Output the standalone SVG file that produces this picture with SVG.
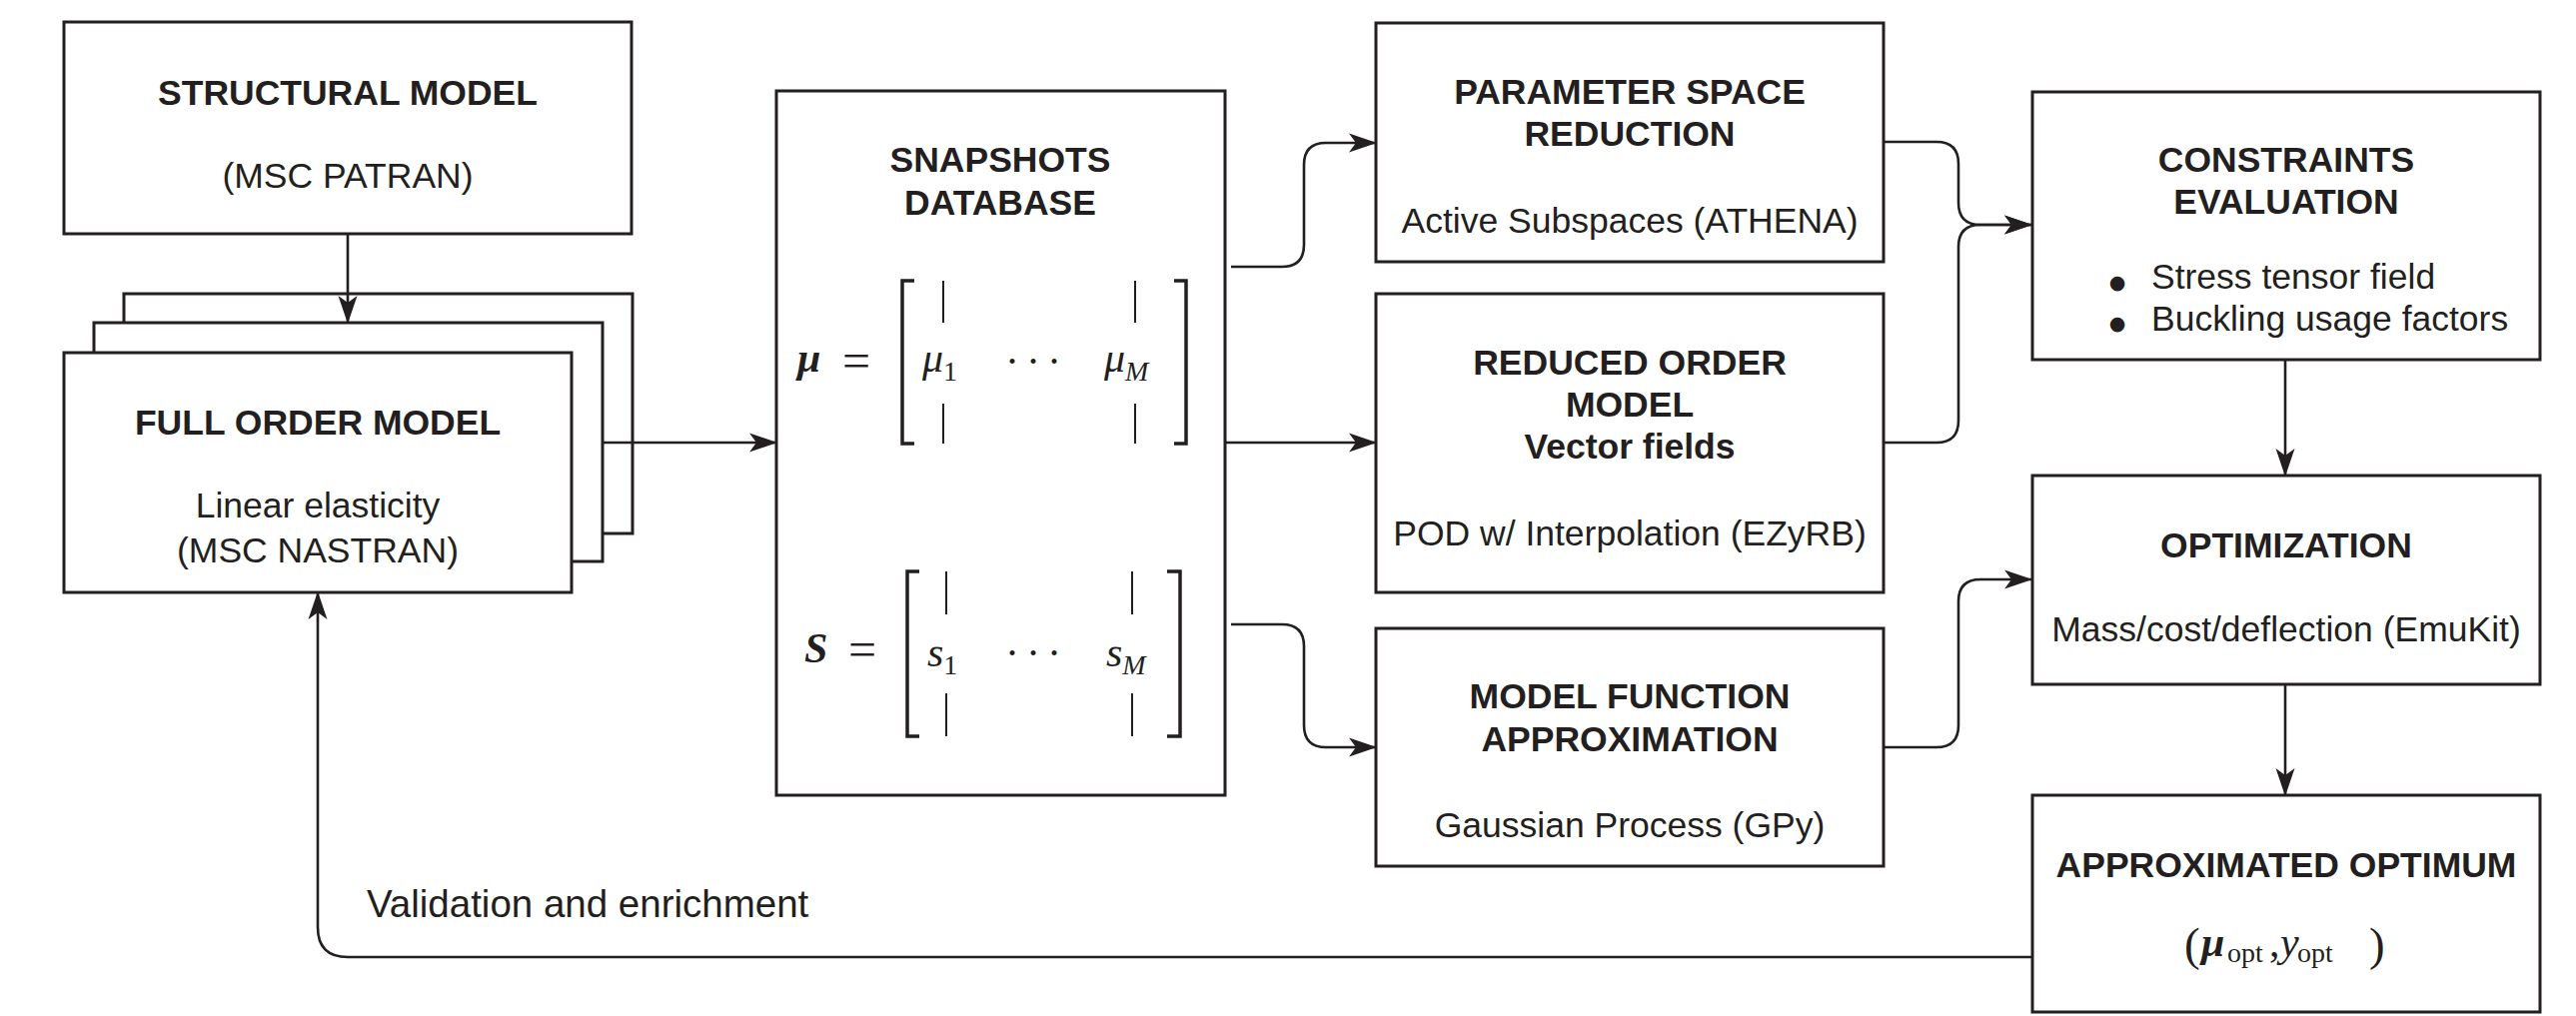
<svg xmlns="http://www.w3.org/2000/svg" width="2578" height="1017" viewBox="0 0 2578 1017">
<defs>
<marker id="arr" markerUnits="userSpaceOnUse" markerWidth="28" markerHeight="20" viewBox="0 0 28 20" refX="27" refY="10" orient="auto">
<path d="M0,0.5 L28,10 L0,19.5 L7,10 Z" fill="#231f20"/>
</marker>
<style>
.box{fill:#fff;stroke:#231f20;stroke-width:3}
.edge{fill:none;stroke:#231f20;stroke-width:2.6}
.arrow{marker-end:url(#arr)}
.t{font-family:"Liberation Sans",Arial,sans-serif;font-size:35.5px;fill:#231f20;text-anchor:middle}
.l{text-anchor:start}
.b{font-weight:bold}
.bul{font-family:"DejaVu Sans",sans-serif;font-size:19px;fill:#231f20;text-anchor:middle}
.lab{font-size:38.5px}
.m{font-family:"Liberation Serif","Times New Roman",serif;font-size:42px;fill:#231f20}
.bi{font-weight:bold;font-style:italic}
.i{font-style:italic}
.sub{font-size:28px}
.par{font-size:47px}
.eq{font-size:50px;text-anchor:middle}
.dots{text-anchor:middle}
.delim{fill:none;stroke:#231f20;stroke-width:3.5}
.bar{fill:none;stroke:#231f20;stroke-width:2}
</style>
</defs>
<rect width="2578" height="1017" fill="#fff"/>

<g id="structural-model">
<rect class="box" x="64" y="22" width="568" height="212"/>
<text class="t b" x="348" y="105">STRUCTURAL MODEL</text>
<text class="t" x="348" y="188">(MSC PATRAN)</text>
</g>

<g id="full-order-model">
<rect class="box" x="124" y="294" width="509" height="240"/>
<rect class="box" x="94" y="323" width="509" height="239"/>
<rect class="box" x="64" y="353" width="508" height="240"/>
<text class="t b" x="318" y="435">FULL ORDER MODEL</text>
<text class="t" x="318" y="518">Linear elasticity</text>
<text class="t" x="318" y="563">(MSC NASTRAN)</text>
</g>

<g id="snapshots-database">
<rect class="box" x="777" y="91" width="449" height="705"/>
<text class="t b" x="1001" y="172">SNAPSHOTS</text>
<text class="t b" x="1001" y="215">DATABASE</text>
<text class="m bi" x="798" y="372">μ</text>
<text class="m eq" x="857" y="378">=</text>
<path class="delim" d="M915,281 H903 V444 H915"/>
<path class="delim" d="M1175,281 H1187 V444 H1175"/>
<path class="bar" d="M944,281 V323 M944,404 V444 M1136,281 V323 M1136,404 V444"/>
<text class="m i" x="923" y="372">μ<tspan class="sub" font-style="normal" y="381">1</tspan></text>
<text class="m dots" x="1013 1034 1055" y="376">···</text>
<text class="m i" x="1105" y="372">μ<tspan class="sub" y="381">M</tspan></text>
<text class="m bi" x="805" y="663">S</text>
<text class="m eq" x="863" y="667">=</text>
<path class="delim" d="M920,572 H908 V737 H920"/>
<path class="delim" d="M1168,572 H1181 V737 H1168"/>
<path class="bar" d="M947,572 V615 M947,694 V737 M1133,572 V615 M1133,694 V737"/>
<text class="m i" x="928" y="667">s<tspan class="sub" font-style="normal" y="675">1</tspan></text>
<text class="m dots" x="1013 1034 1055" y="668">···</text>
<text class="m i" x="1107" y="667">s<tspan class="sub" y="675">M</tspan></text>
</g>

<g id="parameter-space-reduction">
<rect class="box" x="1377" y="23" width="508" height="239"/>
<text class="t b" x="1631" y="104">PARAMETER SPACE</text>
<text class="t b" x="1631" y="146">REDUCTION</text>
<text class="t" x="1631" y="233">Active Subspaces (ATHENA)</text>
</g>

<g id="reduced-order-model">
<rect class="box" x="1377" y="294" width="508" height="299"/>
<text class="t b" x="1631" y="375">REDUCED ORDER</text>
<text class="t b" x="1631" y="417">MODEL</text>
<text class="t b" x="1631" y="459">Vector fields</text>
<text class="t" x="1631" y="546">POD w/ Interpolation (EZyRB)</text>
</g>

<g id="model-function-approximation">
<rect class="box" x="1377" y="629" width="508" height="238"/>
<text class="t b" x="1631" y="709">MODEL FUNCTION</text>
<text class="t b" x="1631" y="752">APPROXIMATION</text>
<text class="t" x="1631" y="838">Gaussian Process (GPy)</text>
</g>

<g id="constraints-evaluation">
<rect class="box" x="2034" y="92" width="508" height="268"/>
<text class="t b" x="2288" y="172">CONSTRAINTS</text>
<text class="t b" x="2288" y="214">EVALUATION</text>
<text class="bul" x="2119" y="289">●</text>
<text class="t l" x="2153" y="289">Stress tensor field</text>
<text class="bul" x="2119" y="330">●</text>
<text class="t l" x="2153" y="331">Buckling usage factors</text>
</g>

<g id="optimization">
<rect class="box" x="2034" y="476" width="508" height="209"/>
<text class="t b" x="2288" y="558">OPTIMIZATION</text>
<text class="t" x="2288" y="642">Mass/cost/deflection (EmuKit)</text>
</g>

<g id="approximated-optimum">
<rect class="box" x="2034" y="796" width="508" height="217"/>
<text class="t b" x="2288" y="878">APPROXIMATED OPTIMUM</text>
<text class="m par" x="2186" y="961">(</text>
<text class="m bi" x="2203" y="957">μ</text>
<text class="m sub" x="2229" y="963">opt</text>
<text class="m" x="2271" y="957">,</text>
<text class="m i" x="2282" y="957">y</text>
<text class="m sub" x="2299" y="963">opt</text>
<text class="m par" x="2371" y="961">)</text>
</g>

<g id="connectors">
<path class="edge arrow" d="M348,234 V323"/>
<path class="edge arrow" d="M603,443 H777"/>
<path class="edge arrow" d="M1232,267 H1283 Q1305,267 1305,245 V165 Q1305,143 1327,143 H1377"/>
<path class="edge arrow" d="M1226,443 H1377"/>
<path class="edge arrow" d="M1232,625 H1283 Q1305,625 1305,647 V726 Q1305,748 1327,748 H1377"/>
<path class="edge arrow" d="M1885,142 H1938 Q1960,142 1960,164 V203 Q1960,225 1982,225 H2033"/>
<path class="edge arrow" d="M1885,443 H1938 Q1960,443 1960,421 V247 Q1960,225 1982,225 H2033"/>
<path class="edge arrow" d="M1885,748 H1938 Q1960,748 1960,726 V602 Q1960,580 1982,580 H2033"/>
<path class="edge arrow" d="M2287,360 V476"/>
<path class="edge arrow" d="M2287,685 V796"/>
<path class="edge arrow" d="M2034,958 H348 Q318,958 318,928 V593"/>
<text class="t l lab" x="367" y="918">Validation and enrichment</text>
</g>
</svg>
